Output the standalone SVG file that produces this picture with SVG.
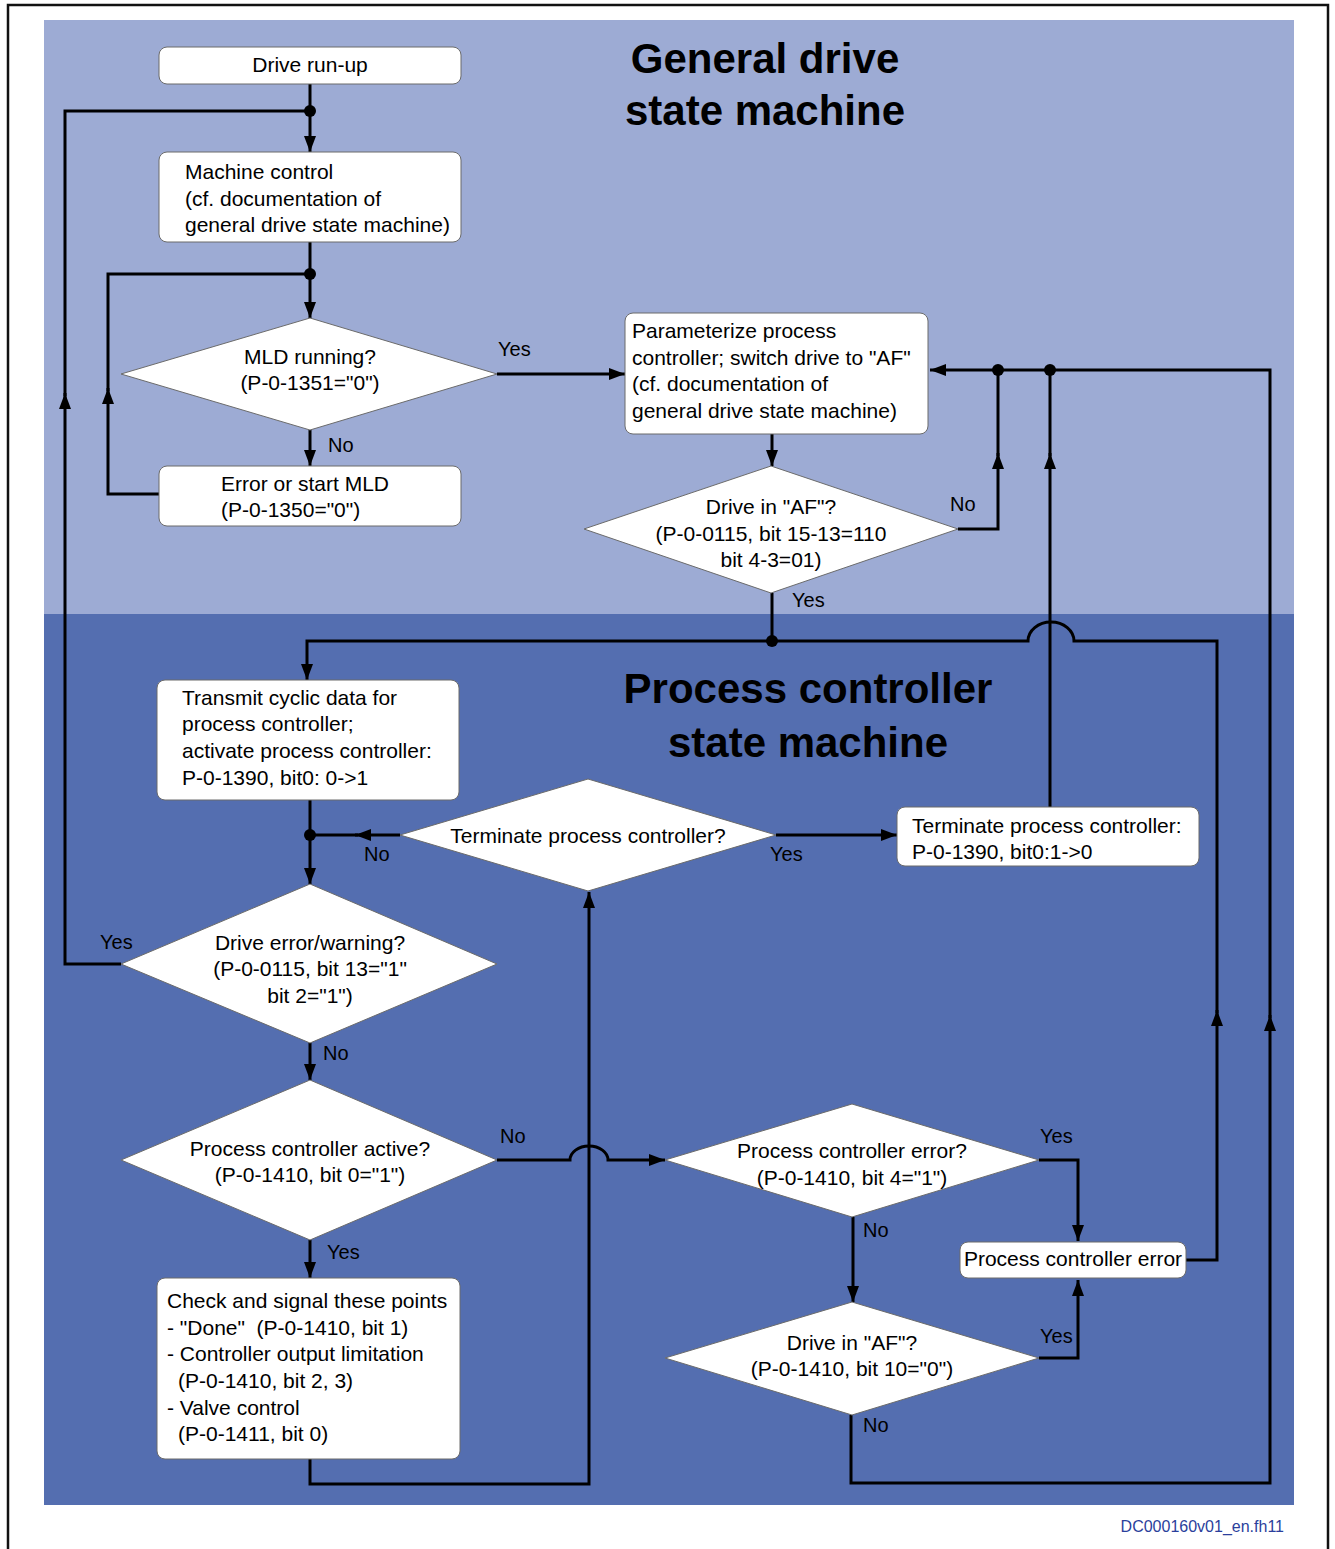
<svg xmlns="http://www.w3.org/2000/svg" width="1335" height="1549" viewBox="0 0 1335 1549">
<defs>
<marker id="ah" viewBox="0 0 16 12" refX="16" refY="6" markerWidth="16" markerHeight="12" markerUnits="userSpaceOnUse" orient="auto">
<path d="M0,0 L16,6 L0,12 z" fill="#000"/>
</marker>
</defs>
<style>
.box{fill:#fff;stroke:#6b6b6b;stroke-width:1}
.t{font-family:"Liberation Sans",Arial,sans-serif;font-size:21px;fill:#000}
.c{text-anchor:middle}
.lbl{font-family:"Liberation Sans",Arial,sans-serif;font-size:20px;fill:#000}
.title{font-family:"Liberation Sans",Arial,sans-serif;font-size:42px;font-weight:bold;fill:#000;text-anchor:middle}
.ln{fill:none;stroke:#000;stroke-width:3}
.ar{marker-end:url(#ah)}
.dot{fill:#000}
</style>
<rect x="0" y="0" width="1335" height="1549" fill="#fff"/>
<rect x="8" y="5" width="1320" height="1560" fill="none" stroke="#111" stroke-width="2.5"/>
<rect x="44" y="20" width="1250" height="594" fill="#9dabd4"/>
<rect x="44" y="614" width="1250" height="891" fill="#546eb0"/>
<text class="title" x="765" y="73">General drive</text>
<text class="title" x="765" y="125">state machine</text>
<text class="title" x="808" y="703">Process controller</text>
<text class="title" x="808" y="757">state machine</text>
<text x="1284" y="1532" font-family="Liberation Sans, Arial, sans-serif" font-size="16" fill="#2b3f9c" text-anchor="end">DC000160v01_en.fh11</text>

<g id="connectors">
<path class="ln ar" d="M310,84 V152"/>
<path class="ln ar" d="M121,964 H65 V393"/>
<path class="ln" d="M65,396 V111 H310"/>
<path class="ln ar" d="M310,242 V318"/>
<path class="ln ar" d="M159,494 H108 V388"/>
<path class="ln" d="M108,391 V274 H310"/>
<path class="ln ar" d="M497,374 H625"/>
<path class="ln ar" d="M310,430 V466"/>
<path class="ln ar" d="M772,434 V466"/>
<path class="ln ar" d="M958,529 H998 V453"/>
<path class="ln" d="M998,456 V370"/>
<path class="ln ar" d="M851,1415 V1483 H1270 V1015"/>
<path class="ln ar" d="M1270,1018 V370 H930"/>
<path class="ln ar" d="M1050,807 V453"/>
<path class="ln" d="M1050,456 V370"/>
<path class="ln" d="M772,593 V641"/>
<path class="ln ar" d="M1186,1260 H1217 V1010"/>
<path class="ln ar" d="M1217,1013 V641 H1074 A23 19 0 0 0 1028 641 H307 V680"/>
<path class="ln ar" d="M310,800 V884"/>
<path class="ln ar" d="M400,835 H355"/>
<path class="ln" d="M358,835 H310"/>
<path class="ln ar" d="M776,835 H897"/>
<path class="ln ar" d="M310,1043 V1080"/>
<path class="ln ar" d="M497,1160 H570 A19 14 0 0 1 608 1160 H665"/>
<path class="ln ar" d="M310,1240 V1278"/>
<path class="ln ar" d="M310,1459 V1484 H589 V892"/>
<path class="ln ar" d="M1039,1160 H1078 V1241"/>
<path class="ln ar" d="M853,1217 V1302"/>
<path class="ln ar" d="M1039,1358 H1078 V1280"/>
<circle class="dot" cx="310" cy="111" r="6"/>
<circle class="dot" cx="310" cy="274" r="6"/>
<circle class="dot" cx="998" cy="370" r="6"/>
<circle class="dot" cx="1050" cy="370" r="6"/>
<circle class="dot" cx="772" cy="641" r="6"/>
<circle class="dot" cx="310" cy="835" r="6"/>
<text class="lbl" x="498" y="356">Yes</text>
<text class="lbl" x="328" y="452">No</text>
<text class="lbl" x="950" y="511">No</text>
<text class="lbl" x="792" y="607">Yes</text>
<text class="lbl" x="364" y="861">No</text>
<text class="lbl" x="770" y="861">Yes</text>
<text class="lbl" x="100" y="949">Yes</text>
<text class="lbl" x="323" y="1060">No</text>
<text class="lbl" x="500" y="1143">No</text>
<text class="lbl" x="327" y="1259">Yes</text>
<text class="lbl" x="1040" y="1143">Yes</text>
<text class="lbl" x="863" y="1237">No</text>
<text class="lbl" x="1040" y="1343">Yes</text>
<text class="lbl" x="863" y="1432">No</text>
</g>

<g id="drive-run-up">
<rect class="box" x="159" y="47" width="302" height="37" rx="8"/>
<text class="t c" x="310" y="72">Drive run-up</text>
</g>
<g id="machine-control">
<rect class="box" x="159" y="152" width="302" height="90" rx="8"/>
<text class="t" x="185" y="179">Machine control</text>
<text class="t" x="185" y="206">(cf. documentation of</text>
<text class="t" x="185" y="232">general drive state machine)</text>
</g>
<g id="mld-running">
<polygon class="box" points="310,318 497,374 310,430 121,374"/>
<text class="t c" x="310" y="364">MLD running?</text>
<text class="t c" x="310" y="390">(P-0-1351="0")</text>
</g>
<g id="error-start-mld">
<rect class="box" x="159" y="466" width="302" height="60" rx="8"/>
<text class="t" x="221" y="491">Error or start MLD</text>
<text class="t" x="221" y="517">(P-0-1350="0")</text>
</g>
<g id="parameterize">
<rect class="box" x="625" y="313" width="303" height="121" rx="8"/>
<text class="t" x="632" y="338">Parameterize process</text>
<text class="t" x="632" y="365">controller; switch drive to "AF"</text>
<text class="t" x="632" y="391">(cf. documentation of</text>
<text class="t" x="632" y="418">general drive state machine)</text>
</g>
<g id="drive-in-af-1">
<polygon class="box" points="771,466 958,529 771,593 584,529"/>
<text class="t c" x="771" y="514">Drive in "AF"?</text>
<text class="t c" x="771" y="541">(P-0-0115, bit 15-13=110</text>
<text class="t c" x="771" y="567">bit 4-3=01)</text>
</g>
<g id="transmit-cyclic">
<rect class="box" x="157" y="680" width="302" height="120" rx="8"/>
<text class="t" x="182" y="705">Transmit cyclic data for</text>
<text class="t" x="182" y="731">process controller;</text>
<text class="t" x="182" y="758">activate process controller:</text>
<text class="t" x="182" y="785">P-0-1390, bit0: 0-&gt;1</text>
</g>
<g id="terminate-question">
<polygon class="box" points="588,779 776,835 588,891 400,835"/>
<text class="t c" x="588" y="843">Terminate process controller?</text>
</g>
<g id="terminate-box">
<rect class="box" x="897" y="807" width="302" height="59" rx="8"/>
<text class="t" x="912" y="833">Terminate process controller:</text>
<text class="t" x="912" y="859">P-0-1390, bit0:1-&gt;0</text>
</g>
<g id="drive-error">
<polygon class="box" points="310,884 497,964 310,1043 121,964"/>
<text class="t c" x="310" y="950">Drive error/warning?</text>
<text class="t c" x="310" y="976">(P-0-0115, bit 13="1"</text>
<text class="t c" x="310" y="1003">bit 2="1")</text>
</g>
<g id="pc-active">
<polygon class="box" points="310,1080 497,1160 310,1240 121,1160"/>
<text class="t c" x="310" y="1156">Process controller active?</text>
<text class="t c" x="310" y="1182">(P-0-1410, bit 0="1")</text>
</g>
<g id="check-signal">
<rect class="box" x="157" y="1278" width="303" height="181" rx="8"/>
<text class="t" x="167" y="1308">Check and signal these points</text>
<text class="t" x="167" y="1335" xml:space="preserve">- "Done"  (P-0-1410, bit 1)</text>
<text class="t" x="167" y="1361">- Controller output limitation</text>
<text class="t" x="178" y="1388">(P-0-1410, bit 2, 3)</text>
<text class="t" x="167" y="1415">- Valve control</text>
<text class="t" x="178" y="1441">(P-0-1411, bit 0)</text>
</g>
<g id="pc-error-question">
<polygon class="box" points="852,1104 1039,1160 852,1217 665,1160"/>
<text class="t c" x="852" y="1158">Process controller error?</text>
<text class="t c" x="852" y="1185">(P-0-1410, bit 4="1")</text>
</g>
<g id="pc-error-box">
<rect class="box" x="960" y="1242" width="226" height="36" rx="8"/>
<text class="t c" x="1073" y="1266">Process controller error</text>
</g>
<g id="drive-in-af-2">
<polygon class="box" points="852,1302 1039,1358 852,1415 665,1358"/>
<text class="t c" x="852" y="1350">Drive in "AF"?</text>
<text class="t c" x="852" y="1376">(P-0-1410, bit 10="0")</text>
</g>
</svg>
